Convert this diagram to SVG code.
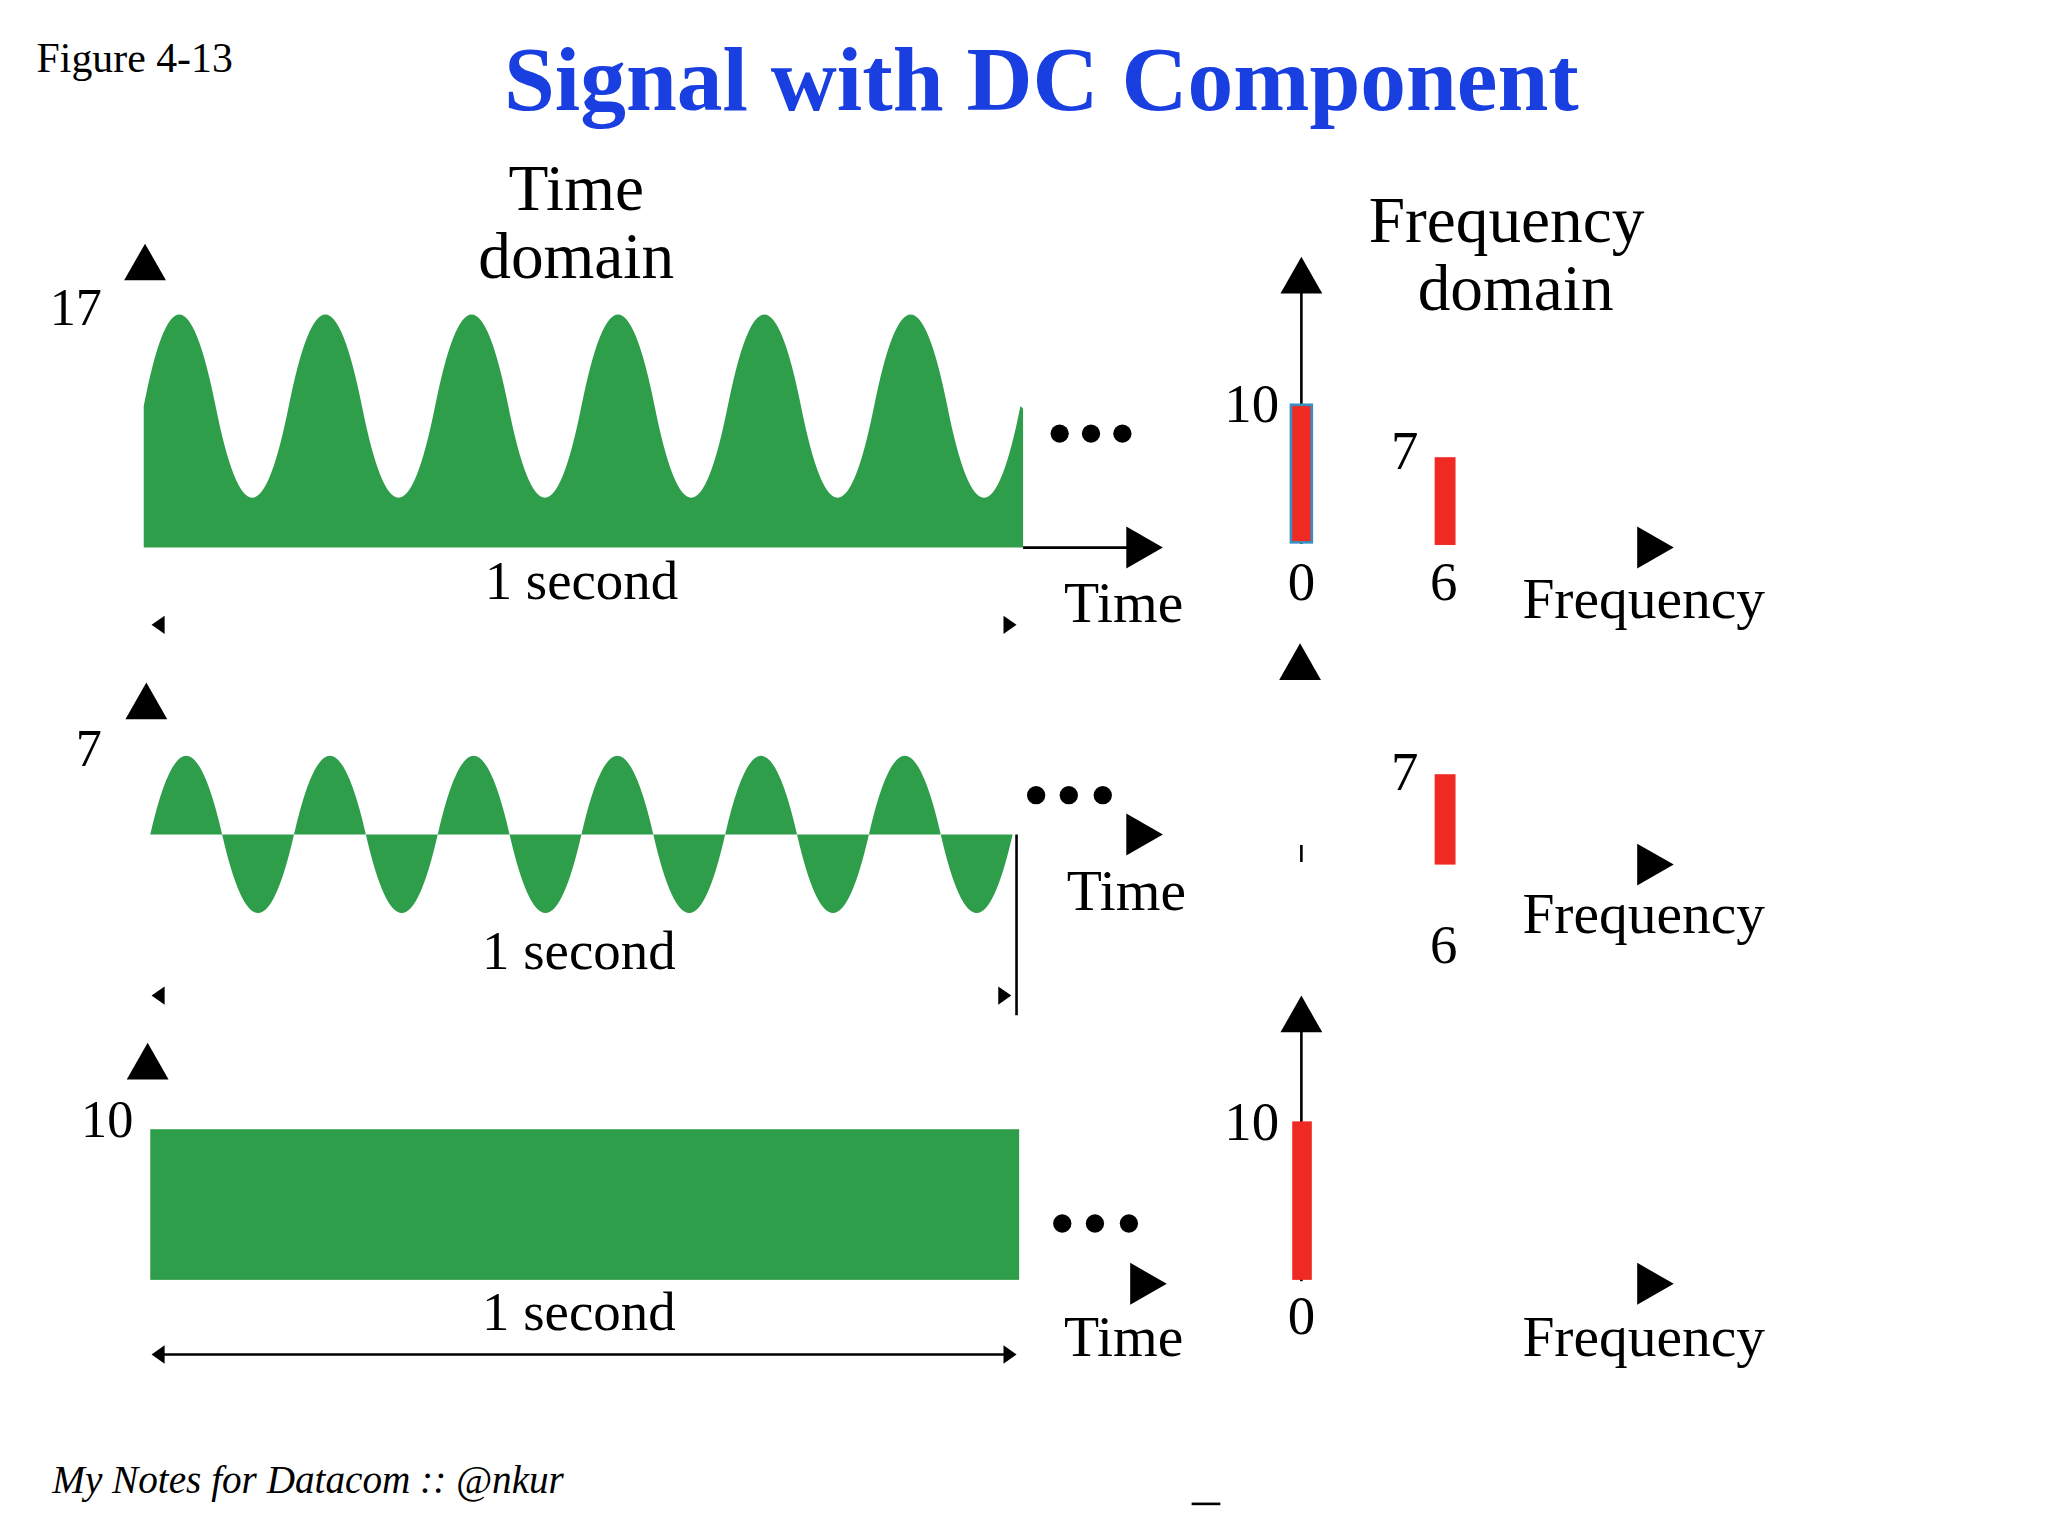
<svg xmlns="http://www.w3.org/2000/svg" width="2048" height="1536" viewBox="0 0 2048 1536">
<style>
.t{font-family:"Liberation Serif","Times New Roman",serif;fill:#000}
.g{fill:#2f9e4a}
.r{fill:#ee2a22}
.ax{stroke:#000;stroke-width:2;fill:none}
</style>
<defs>
<polygon id="up" points="0,-14 -16,14 16,14" fill="#000"/>
<polygon id="rt" points="-14,-16 14,0 -14,16" fill="#000"/>
<polygon id="sl" points="5,-7 -5,0 5,7" fill="#000"/>
<polygon id="sr" points="-5,-7 5,0 -5,7" fill="#000"/>
</defs>
<rect width="2048" height="1536" fill="#fff"/>
<g transform="scale(1.3066 1.31)">
<g id="header">
<text class="t" x="28" y="55" font-size="32">Figure 4-13</text>
<text x="797" y="84" font-size="70" font-weight="bold" text-anchor="middle" font-family="Liberation Serif,serif" fill="#1a3fe0">Signal with DC Component</text>
<text class="t" x="441" y="160" font-size="50" text-anchor="middle">Time</text>
<text class="t" x="441" y="212" font-size="50" text-anchor="middle">domain</text>
<text class="t" x="1153" y="185" font-size="50" text-anchor="middle">Frequency</text>
<text class="t" x="1160" y="237" font-size="50" text-anchor="middle">domain</text>
</g>
<g id="time1">
<path class="g" d="M110 418 L110 310 Q137 170 165 310 T221 310 T277 310 T333 310 T389 310 T445 310 T501 310 T557 310 T613 310 T669 310 T725 310 T781 310 L783 312 L783 418 Z"/>
<use href="#up" x="111" y="200"/>
<text class="t" x="38" y="248" font-size="40">17</text>
<line class="ax" x1="783" y1="418" x2="865" y2="418" stroke="#2f9e4a"/>
<use href="#rt" x="876" y="418"/>
<g fill="#000"><circle cx="811" cy="331" r="7"/><circle cx="835" cy="331" r="7"/><circle cx="859" cy="331" r="7"/></g>
<text class="t" x="445" y="457" font-size="42" text-anchor="middle">1 second</text>
<use href="#sl" x="121" y="477"/><use href="#sr" x="773" y="477"/>
<text class="t" x="860" y="475" font-size="44" text-anchor="middle">Time</text>
</g>
<g id="freq1">
<line class="ax" x1="996" y1="215" x2="996" y2="415"/>
<use href="#up" x="996" y="210"/>
<rect class="r" x="988" y="309" width="16" height="105" stroke="#3a8fc0" stroke-width="2"/>
<text class="t" x="958" y="322" font-size="42" text-anchor="middle">10</text>
<text class="t" x="1075" y="358" font-size="42" text-anchor="middle">7</text>
<rect class="r" x="1098" y="349" width="16" height="67"/>
<use href="#rt" x="1267" y="418"/>
<text class="t" x="996" y="458" font-size="42" text-anchor="middle">0</text>
<text class="t" x="1105" y="458" font-size="42" text-anchor="middle">6</text>
<text class="t" x="1258" y="472" font-size="44" text-anchor="middle">Frequency</text>
</g>
<g id="time2">
<path class="g" d="M115 637 Q142.5 517 170 637 T225 637 T280 637 T335 637 T390 637 T445 637 T500 637 T555 637 T610 637 T665 637 T720 637 T775 637 Z"/>
<use href="#up" x="112" y="535"/>
<text class="t" x="68" y="585" font-size="40" text-anchor="middle">7</text>
<line class="ax" x1="778" y1="637" x2="778" y2="775"/>
<g fill="#000"><circle cx="793" cy="607" r="7"/><circle cx="818" cy="607" r="7"/><circle cx="844" cy="607" r="7"/></g>
<use href="#rt" x="876" y="637"/>
<text class="t" x="862" y="695" font-size="44" text-anchor="middle">Time</text>
<text class="t" x="443" y="740" font-size="42" text-anchor="middle">1 second</text>
<use href="#sl" x="121" y="760"/><use href="#sr" x="769" y="760"/>
</g>
<g id="freq2">
<use href="#up" x="995" y="505"/>
<line class="ax" x1="996" y1="645" x2="996" y2="658"/>
<text class="t" x="1075" y="603" font-size="42" text-anchor="middle">7</text>
<rect class="r" x="1098" y="591" width="16" height="69"/>
<use href="#rt" x="1267" y="660"/>
<text class="t" x="1258" y="712" font-size="44" text-anchor="middle">Frequency</text>
<text class="t" x="1105" y="735" font-size="42" text-anchor="middle">6</text>
</g>
<g id="time3">
<use href="#up" x="113" y="810"/>
<text class="t" x="82" y="868" font-size="40" text-anchor="middle">10</text>
<rect class="g" x="115" y="862" width="665" height="115"/>
<g fill="#000"><circle cx="813" cy="934" r="7"/><circle cx="838" cy="934" r="7"/><circle cx="864" cy="934" r="7"/></g>
<use href="#rt" x="879" y="980"/>
<text class="t" x="860" y="1035" font-size="44" text-anchor="middle">Time</text>
<text class="t" x="443" y="1015" font-size="42" text-anchor="middle">1 second</text>
<line class="ax" x1="120" y1="1034" x2="776" y2="1034"/>
<use href="#sl" x="121" y="1034"/><use href="#sr" x="773" y="1034"/>
</g>
<g id="freq3">
<line class="ax" x1="996" y1="785" x2="996" y2="978"/>
<use href="#up" x="996" y="774"/>
<rect class="r" x="989" y="856" width="15" height="121"/>
<text class="t" x="958" y="870" font-size="42" text-anchor="middle">10</text>
<text class="t" x="996" y="1018" font-size="42" text-anchor="middle">0</text>
<use href="#rt" x="1267" y="980"/>
<text class="t" x="1258" y="1035" font-size="44" text-anchor="middle">Frequency</text>
</g>
<g id="footer">
<text class="t" x="40" y="1140" font-size="30" font-style="italic">My Notes for Datacom :: @nkur</text>
<line class="ax" x1="912" y1="1148" x2="934" y2="1148"/>
</g>
</g>
</svg>
